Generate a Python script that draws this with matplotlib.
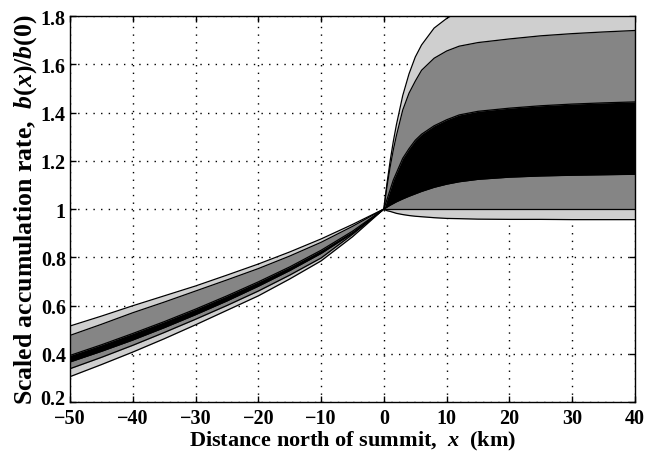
import numpy as np
import matplotlib.pyplot as plt
import matplotlib.transforms as mtransforms

plt.rcParams['font.family'] = 'Liberation Serif'
plt.rcParams['font.weight'] = 'bold'
plt.rcParams['mathtext.fontset'] = 'custom'
plt.rcParams['mathtext.it'] = 'Liberation Serif:italic:bold'
plt.rcParams['mathtext.rm'] = 'Liberation Serif:bold'

# south of the summit (x < 0)
x_s = [-50, -45, -40, -35, -30, -25, -20, -15, -10, -5, 0]
light_hi_s = [0.515, 0.556, 0.599, 0.640, 0.681, 0.726, 0.772, 0.822, 0.876, 0.936, 1.0]
dark_hi_s  = [0.476, 0.522, 0.570, 0.614, 0.660, 0.706, 0.753, 0.805, 0.862, 0.928, 1.0]
black_hi_s = [0.393, 0.437, 0.484, 0.533, 0.585, 0.640, 0.698, 0.760, 0.829, 0.908, 1.0]
black_lo_s = [0.366, 0.410, 0.457, 0.508, 0.562, 0.619, 0.680, 0.745, 0.816, 0.900, 1.0]
dark_lo_s  = [0.338, 0.385, 0.435, 0.488, 0.543, 0.600, 0.660, 0.726, 0.797, 0.895, 1.0]
light_lo_s = [0.305, 0.355, 0.407, 0.462, 0.520, 0.580, 0.640, 0.710, 0.785, 0.885, 1.0]

# north of the summit (x > 0)
x_n = [0, 0.25, 0.5, 1, 1.5, 2, 3, 4, 5, 6, 8, 10, 12, 15, 20, 25, 30, 35, 40]
light_hi_n = [1.0, 1.055, 1.107, 1.20, 1.28, 1.35, 1.47, 1.56, 1.63, 1.68, 1.75, 1.79, 1.82, 1.835, 1.845, 1.848, 1.85, 1.85, 1.85]
dark_hi_n  = [1.0, 1.05, 1.095, 1.175, 1.245, 1.305, 1.41, 1.48, 1.53, 1.575, 1.625, 1.655, 1.675, 1.69, 1.705, 1.718, 1.727, 1.734, 1.74]
black_hi_n = [1.0, 1.02, 1.04, 1.08, 1.12, 1.15, 1.21, 1.25, 1.285, 1.31, 1.345, 1.37, 1.39, 1.405, 1.418, 1.428, 1.435, 1.44, 1.444]
black_lo_n = [1.0, 1.004, 1.008, 1.016, 1.023, 1.03, 1.042, 1.053, 1.063, 1.073, 1.09, 1.103, 1.113, 1.123, 1.132, 1.137, 1.14, 1.142, 1.144]
dark_lo_n  = [1.0] * len(x_n)
light_lo_n = [1.0, 0.996, 0.993, 0.99, 0.986, 0.982, 0.977, 0.973, 0.970, 0.968, 0.964, 0.961, 0.960, 0.958, 0.957, 0.957, 0.956, 0.956, 0.956]

c_light = '#cfcfcf'
c_dark = '#858585'

fig = plt.figure(figsize=(6.59, 4.60), dpi=100)
ax = fig.add_axes([0.1062, 0.1239, 0.8574, 0.8391])

for x, lh, dh, bh, bl, dl, ll in [(x_s, light_hi_s, dark_hi_s, black_hi_s, black_lo_s, dark_lo_s, light_lo_s),
                                  (x_n, light_hi_n, dark_hi_n, black_hi_n, black_lo_n, dark_lo_n, light_lo_n)]:
    ax.fill_between(x, ll, lh, color=c_light, lw=0, zorder=2)
    ax.fill_between(x, dl, dh, color=c_dark, lw=0, zorder=3)
    ax.fill_between(x, bl, bh, color='black', lw=0, zorder=4)
    for y in (lh, dh, bh, bl, dl, ll):
        ax.plot(x, y, color='black', lw=0.9, zorder=5)

ax.set_xlim(-50, 40)
ax.set_ylim(0.2, 1.8)
ax.set_xticks(np.arange(-50, 41, 10))
ax.set_xticklabels(['\u221250', '\u221240', '\u221230', '\u221220', '\u221210', '0', '10', '20', '30', '40'])
ax.set_yticks(np.arange(0.2, 1.81, 0.2))
ax.set_yticklabels(['0.2', '0.4', '0.6', '0.8', '1', '1.2', '1.4', '1.6', '1.8'])
ax.tick_params(direction='in', top=True, right=True, length=4, width=1, labelsize=14.5, pad=4)
ax.tick_params(axis='y', pad=3)
ax.grid(True, linestyle=(0, (1, 4.5)), color='black', lw=1.0, zorder=0)
ax.set_axisbelow(True)
for s in ax.spines.values():
    s.set_linewidth(1.0)
    s.set_zorder(6)

# lift the lowest y label a little so it sits just above "-50", as in the original
lbl = ax.get_yticklabels()[0]
lbl.set_transform(lbl.get_transform() + mtransforms.ScaledTranslation(0, 4/72, fig.dpi_scale_trans))

ax.set_xlabel('Distance north of summit,  $x$  (km)', fontsize=16, fontweight='bold', labelpad=1)
ax.set_ylabel('Scaled accumulation rate,  $b(x)/b(0)$', fontsize=18.5, fontweight='bold', labelpad=1)

fig.savefig('out.png', dpi=100)
